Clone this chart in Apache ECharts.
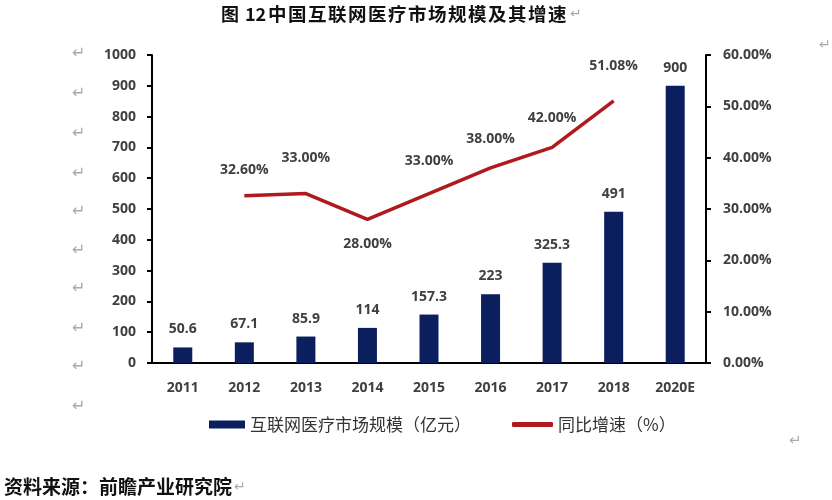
<!DOCTYPE html>
<html><head><meta charset="utf-8">
<script src="https://cdn.jsdelivr.net/npm/echarts@6/dist/echarts.min.js"></script>
<style>html,body{margin:0;padding:0;background:#fff}#c{width:832px;height:500px}</style>
</head><body><div id="c"></div>
<script>
const categories = ['2011','2012','2013','2014','2015','2016','2017','2018','2020E'];
const marketSize = [50.6, 67.1, 85.9, 114, 157.3, 223, 325.3, 491, 900];
const growthRate = [null, 32.6, 33.0, 28.0, 33.0, 38.0, 42.0, 51.08, null];
const leftTicks = [0,100,200,300,400,500,600,700,800,900,1000];
const rightTicks = [0,10,20,30,40,50,60];
const titleText = '中国互联网医疗市场规模及其增速';

const chart = echarts.init(document.getElementById('c'));
const labFont = {fontFamily:'"Open Sans","Noto Sans",sans-serif', fontWeight:'bold', fontSize:14, color:'#404040'};
const markYs = [55,95,135,175,213,252,290,330,368,408];
const graphics = markYs.map(y => ({type:'text', left:72, top:y-9, style:{text:'↵', fill:'#aaa', font:'16px "DejaVu Sans"'}}));
graphics.push({type:'text', left:819, top:38, style:{text:'↵', fill:'#aaa', font:'14px "DejaVu Sans"'}});
graphics.push({type:'text', left:789, top:434, style:{text:'↵', fill:'#aaa', font:'15px "DejaVu Sans"'}});
graphics.push({type:'text', left:221, top:5, style:{text:'图', fill:'#111', font:'bold 18px "Noto Sans CJK SC"'}});
graphics.push({type:'text', left:245, top:5, style:{text:'12', fill:'#111', font:'bold 18px "Noto Sans CJK SC"'}});
Array.from(titleText).forEach((ch,i)=>{
  graphics.push({type:'text', left:268 + i*20, top:5, style:{text:ch, fill:'#111', font:'bold 18.5px "Noto Sans CJK SC"'}});
});
graphics.push({type:'text', left:570, top:7, style:{text:'↵', fill:'#aaa', font:'14px "DejaVu Sans"'}});
graphics.push({type:'text', left:4, top:477, style:{text:'资料来源：前瞻产业研究院', fill:'#111', font:'bold 19px "Noto Sans CJK SC"'}});
graphics.push({type:'text', left:234, top:480, style:{text:'↵', fill:'#aaa', font:'14px "DejaVu Sans"'}});

const labelDist = [22, 19, 29, 18, 26, 22, 22, 28, 22];
const lineData = growthRate.map((v,i)=> i===3
  ? {value:v, label:{position:'bottom', distance:labelDist[i]}}
  : {value:v, label:{distance:labelDist[i]}});

chart.setOption({
  animation:false,
  backgroundColor:'#fff',
  grid:{left:152, right:126, top:55, bottom:137},
  legend:[
    {left:209, top:416, padding:0, itemWidth:36, itemHeight:8, data:[{name:'互联网医疗市场规模（亿元）', icon:'rect'}],
     textStyle:{fontFamily:'"Noto Sans CJK SC"', fontSize:17, color:'#333'}},
    {left:512, top:416, padding:0, itemWidth:41, itemHeight:5, data:[{name:'同比增速（%）', icon:'roundRect'}],
     textStyle:{fontFamily:'"Noto Sans CJK SC"', fontSize:17, color:'#333'}}
  ],
  xAxis:{type:'category', data:categories,
    axisLine:{lineStyle:{color:'#000', width:2}}, axisTick:{show:false},
    axisLabel:Object.assign({margin:18}, labFont)},
  yAxis:[
    {type:'value', min:0, max:1000, interval:100, splitLine:{show:false},
     axisLine:{show:true, lineStyle:{color:'#000', width:2}}, axisTick:{show:true, length:5, lineStyle:{color:'#000', width:2}},
     axisLabel:Object.assign({margin:16, formatter:v=>String(v)}, labFont)},
    {type:'value', min:0, max:60, interval:10, splitLine:{show:false},
     axisLine:{show:true, lineStyle:{color:'#000', width:2}}, axisTick:{show:true, length:5, lineStyle:{color:'#000', width:2}},
     axisLabel:Object.assign({margin:17, formatter:v=>v.toFixed(2)+'%'}, labFont)}
  ],
  graphic:graphics,
  series:[
    {name:'互联网医疗市场规模（亿元）', type:'bar', data:marketSize, barWidth:19,
     itemStyle:{color:'#0B1F5E'},
     label:Object.assign({show:true, position:'top', distance:11}, labFont)},
    {name:'同比增速（%）', type:'line', yAxisIndex:1, data:lineData, showSymbol:true, symbol:'circle', symbolSize:0.1,
     lineStyle:{color:'#B01A1F', width:3.5}, itemStyle:{color:'#B01A1F'},
     label:Object.assign({show:true, position:'top', formatter:p=>p.value==null?'':p.value.toFixed(2)+'%'}, labFont),
     labelLayout:{hideOverlap:false}}
  ]
});
</script></body></html>
